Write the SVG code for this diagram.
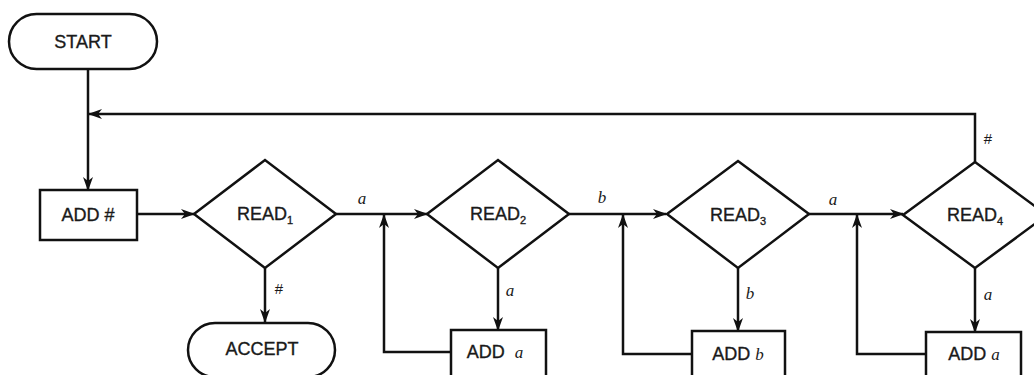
<svg xmlns="http://www.w3.org/2000/svg" width="1034" height="375" viewBox="0 0 1034 375">
<defs>
<marker id="arr" viewBox="0 0 14 10" refX="13" refY="5" markerWidth="14" markerHeight="10" markerUnits="userSpaceOnUse" orient="auto">
<path d="M0,0 L14,5 L0,10 L4,5 Z" fill="#111"/>
</marker>
<style>
.sh{fill:#fff;stroke:#111;stroke-width:2.5;stroke-linejoin:miter}
.ln{fill:none;stroke:#111;stroke-width:2.5}
.t{font-family:"Liberation Sans",Arial,sans-serif;font-size:18px;fill:#1a1a1a;stroke:#1a1a1a;stroke-width:0.35;text-anchor:middle}
.sub{font-size:11px}
.lab{font-family:"Liberation Serif","Times New Roman",serif;font-style:italic;font-size:17px;fill:#1a1a1a;text-anchor:middle}
.hs{font-family:"Liberation Sans",Arial,sans-serif;font-size:15px;fill:#1a1a1a;text-anchor:middle}
</style>
</defs>
<rect width="1034" height="375" fill="#fff"/>
<g id="connectors">
<path class="ln" d="M88,68 V190" marker-end="url(#arr)"/>
<path class="ln" d="M975,162 V114 H89" marker-end="url(#arr)"/>
<path class="ln" d="M137,214 H194" marker-end="url(#arr)"/>
<path class="ln" d="M265,268 V322" marker-end="url(#arr)"/>
<path class="ln" d="M336,214 H427" marker-end="url(#arr)"/>
<path class="ln" d="M451,352 H384 V215" marker-end="url(#arr)"/>
<path class="ln" d="M498,268 V330" marker-end="url(#arr)"/>
<path class="ln" d="M569,214 H666" marker-end="url(#arr)"/>
<path class="ln" d="M692,354 H623 V215" marker-end="url(#arr)"/>
<path class="ln" d="M738,268 V331" marker-end="url(#arr)"/>
<path class="ln" d="M809,214 H903" marker-end="url(#arr)"/>
<path class="ln" d="M926,354 H857 V215" marker-end="url(#arr)"/>
<path class="ln" d="M975,268 V332" marker-end="url(#arr)"/>
<text class="lab" x="362" y="204">a</text>
<text class="lab" x="602" y="203">b</text>
<text class="lab" x="833" y="205">a</text>
<text class="hs" x="279" y="294">#</text>
<text class="lab" x="510" y="296">a</text>
<text class="lab" x="750" y="299">b</text>
<text class="lab" x="988" y="300">a</text>
<text class="hs" x="988" y="144">#</text>
</g>
<g id="start">
<rect class="sh" x="9" y="14" width="148" height="55" rx="27.5"/>
<text class="t" x="83" y="48">START</text>
</g>
<g id="addhash">
<rect class="sh" x="40" y="190" width="97" height="50"/>
<text class="t" x="88" y="221">ADD #</text>
</g>
<g id="read1">
<polygon class="sh" points="194,214 265,160 336,214 265,268"/>
<text class="t" x="265" y="220">READ<tspan class="sub" dy="4">1</tspan></text>
</g>
<g id="accept">
<rect class="sh" x="188" y="323" width="147" height="54" rx="27"/>
<text class="t" x="262" y="355">ACCEPT</text>
</g>
<g id="read2">
<polygon class="sh" points="427,214 498,160 569,214 498,268"/>
<text class="t" x="498" y="220">READ<tspan class="sub" dy="4">2</tspan></text>
</g>
<g id="adda1">
<rect class="sh" x="451" y="330" width="95" height="60"/>
<text class="t" x="495" y="358">ADD <tspan class="lab" font-size="19" stroke-width="0" dx="5">a</tspan></text>
</g>
<g id="read3">
<polygon class="sh" points="667,214 738,161 809,214 738,268"/>
<text class="t" x="738" y="221">READ<tspan class="sub" dy="4">3</tspan></text>
</g>
<g id="addb">
<rect class="sh" x="692" y="331" width="93" height="60"/>
<text class="t" x="738" y="360">ADD <tspan class="lab" font-size="19" stroke-width="0">b</tspan></text>
</g>
<g id="read4">
<polygon class="sh" points="903,215 975,162 1047,215 975,268"/>
<text class="t" x="975" y="221">READ<tspan class="sub" dy="4">4</tspan></text>
</g>
<g id="adda2">
<rect class="sh" x="926" y="332" width="95" height="60"/>
<text class="t" x="974" y="360">ADD <tspan class="lab" font-size="19" stroke-width="0">a</tspan></text>
</g>
</svg>
